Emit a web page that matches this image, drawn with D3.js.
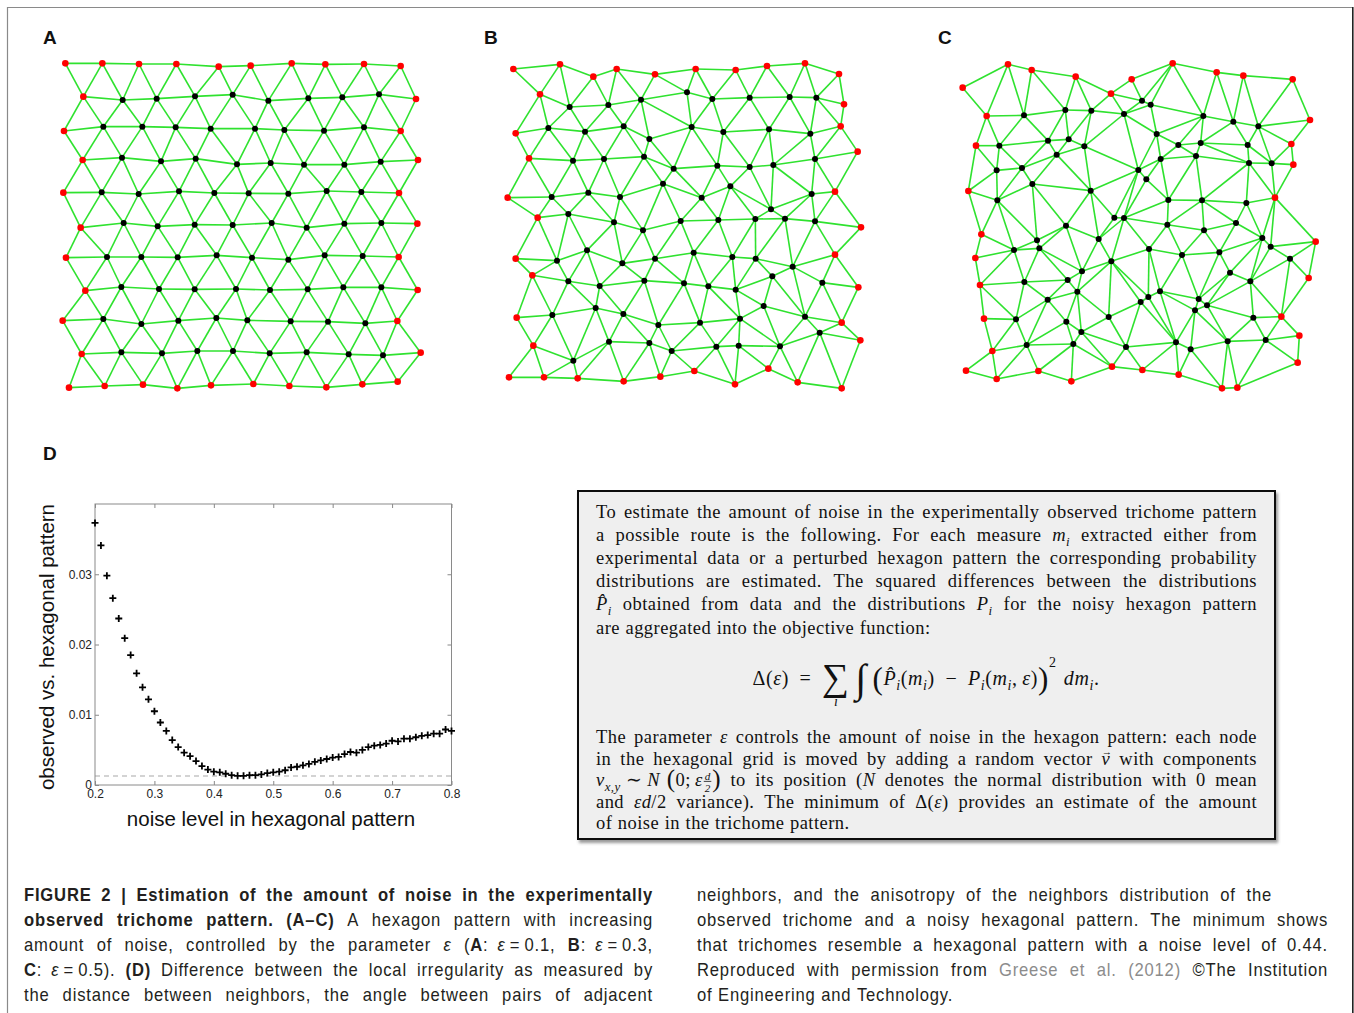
<!DOCTYPE html>
<html>
<head>
<meta charset="utf-8">
<script src="https://cdn.jsdelivr.net/npm/d3@7"></script>
<style>
body { margin: 0; background: #fff; }
svg { display: block; }
</style>
</head>
<body>
<svg id="fig" width="1354" height="1013"></svg>
<script>
// node positions of the three meshes, in sketch units (3 units = 1 px), red = border nodes
const meshA_border = [
  [46,40],[157,40],[267,42],[379,42],[506,50],[602,47],[725,40],[826,43],[942,42],[1052,48],
  [100,140],[1098,147],[42,243],[1052,243],[98,330],[1104,330],[40,428],[1047,429],[92,533],[1102,521],
  [48,623],[1046,621],[106,722],[1103,720],[38,812],[1042,813],[95,912],[1112,908],
  [57,1013],[164,1008],[279,1004],[382,1015],[483,1006],[610,1002],[718,1008],[829,1012],[937,1003],[1043,995]
];
const meshA_inner = [
  [218,150],[320,146],[435,139],[548,134],[655,152],[775,145],[877,142],[987,133],
  [160,230],[277,230],[377,232],[482,236],[615,236],[703,240],[822,242],[942,232],
  [216,323],[333,334],[437,326],[561,343],[662,339],[762,344],[883,344],[992,335],
  [155,427],[266,432],[387,424],[493,429],[596,430],[715,431],[830,423],[934,426],
  [221,519],[323,529],[434,524],[548,525],[665,519],[770,533],[883,521],[994,519],
  [171,621],[274,621],[383,622],[500,616],[606,623],[715,629],[824,616],[938,618],
  [214,711],[327,717],[434,718],[558,717],[660,720],[773,718],[880,712],[994,712],
  [160,807],[274,822],[385,812],[499,804],[592,811],[722,814],[834,815],[946,820],
  [214,907],[336,910],[442,903],[549,903],[659,910],[770,907],[896,913],[999,916]
];
const meshB_border = [
  [55,57],[195,43],[295,80],[365,57],[480,73],[602,57],[722,60],[816,48],[930,40],[1032,72],
  [135,133],[1047,163],[62,250],[1037,229],[102,325],[1088,305],[38,443],[1020,425],[128,503],[1098,532],
  [62,626],[1020,614],[112,676],[1090,712],[65,803],[1040,818],[115,887],[1096,871],
  [42,982],[147,982],[248,985],[386,994],[496,980],[598,963],[720,1003],[820,956],[908,997],[1040,1015]
];
const meshB_inner = [
  [224,171],[340,165],[438,149],[576,127],[652,147],[764,143],[884,141],[964,143],
  [160,234],[270,245],[386,229],[463,267],[590,231],[685,246],[822,238],[946,251],
  [234,332],[327,327],[447,320],[536,356],[667,347],[764,351],[835,345],[960,327],
  [170,441],[280,428],[375,441],[504,401],[620,443],[706,409],[828,478],[950,432],
  [220,492],[357,517],[444,541],[557,513],[670,510],[781,507],[870,506],[960,514],
  [186,632],[276,601],[382,640],[480,626],[596,608],[712,621],[782,626],[893,650],
  [220,694],[314,708],[448,692],[567,700],[640,709],[722,719],[832,679],[982,698],
  [172,795],[302,774],[385,792],[490,825],[615,818],[735,806],[806,768],[930,800],
  [342,875],[463,879],[530,903],[664,890],[731,887],[855,889],[974,848],
  [235,932]
];
const meshC_border = [
  [38,113],[174,43],[245,60],[377,80],[483,131],[545,88],[668,40],[800,67],[880,77],[1028,88],
  [1080,210],[1024,282],[1030,344],[975,443],[1097,575],[1076,684],[994,800],[1048,857],[1043,938],
  [110,198],[78,287],[55,423],[94,553],[76,624],[90,705],[102,806],[127,903],[48,962],
  [140,987],[265,963],[364,994],[486,950],[577,960],[686,974],[816,1015],[862,1013]
];
const meshC_inner = [
  [222,196],[346,180],[424,182],[522,192],[576,152],[602,164],[760,198],[850,215],[925,229],
  [148,287],[294,272],[356,268],[403,289],[620,252],[685,285],[752,279],[893,285],
  [140,361],[216,354],[320,314],[632,327],[738,318],[897,339],[965,340],
  [565,360],[589,388],
  [142,451],[247,402],[422,422],[655,450],[756,451],[889,459],
  [348,527],[493,503],[522,504],[652,524],[762,541],[858,519],
  [261,571],[192,600],[268,595],[446,567],[597,597],[696,615],[808,607],[937,564],[962,590],[1020,626],
  [223,696],[353,690],[396,664],[484,634],[840,668],[901,694],
  [293,749],[382,725],[572,756],[595,741],[630,724],[746,747],[771,766],[735,781],
  [198,808],[349,815],[476,801],[910,803],
  [394,846],[230,885],[370,882],[528,891],[678,877],[722,898],[833,874],[947,870]
];

// panel D: objective vs noise level
const noiseLevels = [0.20,0.21,0.22,0.23,0.24,0.25,0.26,0.27,0.28,0.29,
  0.30,0.31,0.32,0.33,0.34,0.35,0.36,0.37,0.38,0.39,
  0.40,0.41,0.42,0.43,0.44,0.45,0.46,0.47,0.48,0.49,
  0.50,0.51,0.52,0.53,0.54,0.55,0.56,0.57,0.58,0.59,
  0.60,0.61,0.62,0.63,0.64,0.65,0.66,0.67,0.68,0.69,
  0.70,0.71,0.72,0.73,0.74,0.75,0.76,0.77,0.78,0.79,0.80];
const deltaValues = [0.0373,0.0341,0.0298,0.0266,0.0237,0.0209,0.0185,0.0159,0.0139,0.0122,
  0.0105,0.0089,0.0077,0.0064,0.0054,0.0046,0.0041,0.0034,0.0027,0.0022,
  0.0019,0.0018,0.0016,0.0014,0.0013,0.0013,0.0014,0.0014,0.0015,0.0017,
  0.0018,0.0019,0.0021,0.0025,0.0026,0.0028,0.0030,0.0033,0.0035,0.0037,
  0.0039,0.0040,0.0044,0.0047,0.0046,0.0050,0.0054,0.0056,0.0057,0.0059,
  0.0063,0.0062,0.0066,0.0066,0.0068,0.0070,0.0071,0.0073,0.0073,0.0079,0.0077];
const minDelta = 0.00128;
const xTicks = [0.2,0.3,0.4,0.5,0.6,0.7,0.8];
const yTicks = [0,0.01,0.02,0.03];

var svg = d3.select("#fig");
var SANS = "Liberation Sans, Arial, sans-serif",
    SERIF = "Liberation Serif, Times New Roman, serif";

svg.append("rect").attr("width", 1354).attr("height", 1013).attr("fill", "#fff");

// outer frame
svg.append("path").attr("d", "M7.5,1013V7.5H1353")
    .attr("fill", "none").attr("stroke", "#8a8a8a").attr("stroke-width", 1.2);
svg.append("line").attr("x1", 1352.8).attr("x2", 1352.8).attr("y1", 7).attr("y2", 1013)
    .attr("stroke", "#222").attr("stroke-width", 1.6);

// panel letters
[["A", 43, 44], ["B", 484, 44], ["C", 938, 44], ["D", 43, 460]].forEach(d => {
  svg.append("text").attr("x", d[1]).attr("y", d[2]).text(d[0])
    .attr("font-family", SANS).attr("font-weight", "bold").attr("font-size", 19).attr("fill", "#111");
});

// === meshes A-C: delaunay, with the flat hull triangles peeled off ===
function drawMesh(border, inner, x0, y0) {
  var x = d3.scaleLinear().domain([0, 1200]).range([x0, x0 + 400]),
      y = d3.scaleLinear().domain([0, 1200]).range([y0, y0 + 400]);
  var pts = border.concat(inner),
      isBorder = pts.map((d, i) => i < border.length);
  var del = d3.Delaunay.from(pts),
      tri = del.triangles, half = del.halfedges,
      nt = tri.length / 3,
      removed = new Uint8Array(nt),
      next = e => e % 3 === 2 ? e - 2 : e + 1;

  var changed = true;
  while (changed) {
    changed = false;
    for (var t = 0; t < nt; t++) {
      if (removed[t]) continue;
      for (var k = 0; k < 3; k++) {
        var e = 3 * t + k, o = half[e];
        if (o !== -1 && !removed[Math.floor(o / 3)]) continue;
        var c = tri[next(next(e))];
        if (!isBorder[c]) continue;
        var a = pts[tri[e]], b = pts[tri[next(e)]], p = pts[c];
        var ux = a[0] - p[0], uy = a[1] - p[1], vx = b[0] - p[0], vy = b[1] - p[1];
        var cos = (ux * vx + uy * vy) / Math.hypot(ux, uy) / Math.hypot(vx, vy);
        if (cos < -0.09) { removed[t] = 1; changed = true; break; }
      }
    }
  }

  var links = [];
  for (var e = 0; e < tri.length; e++) {
    if (removed[Math.floor(e / 3)]) continue;
    var o = half[e];
    if (o === -1 || removed[Math.floor(o / 3)] || e < o)
      links.push([pts[tri[e]], pts[tri[next(e)]]]);
  }

  var g = svg.append("g");
  g.selectAll("line").data(links).join("line")
      .attr("x1", d => x(d[0][0])).attr("y1", d => y(d[0][1]))
      .attr("x2", d => x(d[1][0])).attr("y2", d => y(d[1][1]))
      .attr("stroke", "#2fe22f").attr("stroke-width", 1.6);
  g.selectAll("circle.in").data(inner).join("circle").attr("class", "in")
      .attr("cx", d => x(d[0])).attr("cy", d => y(d[1])).attr("r", 3).attr("fill", "#000");
  g.selectAll("circle.bd").data(border).join("circle").attr("class", "bd")
      .attr("cx", d => x(d[0])).attr("cy", d => y(d[1])).attr("r", 3.3).attr("fill", "#f00");
}

drawMesh(meshA_border, meshA_inner, 50, 50);
drawMesh(meshB_border, meshB_inner, 495, 50);
drawMesh(meshC_border, meshC_inner, 950, 50);

// === panel D ===
var px = d3.scaleLinear().domain([0.2, 0.8]).range([95, 451.5]),
    py = d3.scaleLinear().domain([0, 0.04]).range([785, 504]);
var d = svg.append("g");

d.append("line").attr("x1", px(0.2)).attr("x2", px(0.8))
    .attr("y1", py(minDelta)).attr("y2", py(minDelta))
    .attr("stroke", "#a8a8a8").attr("stroke-width", 1.2).attr("stroke-dasharray", "5,4");

function styleAxis(g) {
  g.select(".domain").remove();
  g.selectAll(".tick line").attr("stroke", "#888");
  g.selectAll(".tick text").attr("font-family", SANS).attr("font-size", 12).attr("fill", "#222");
}
d.append("g").attr("transform", `translate(0,${py(0)})`)
    .call(d3.axisBottom(px).tickValues(xTicks).tickSize(-4).tickPadding(4).tickFormat(d3.format(".1f")))
    .call(styleAxis);
d.append("g").attr("transform", `translate(0,${py(0.04)})`)
    .call(d3.axisTop(px).tickValues(xTicks).tickSize(-4).tickFormat(""))
    .call(styleAxis);
d.append("g").attr("transform", `translate(${px(0.2)},0)`)
    .call(d3.axisLeft(py).tickValues(yTicks).tickSize(-4).tickPadding(3)
      .tickFormat(v => v === 0 ? "0" : d3.format(".2f")(v)))
    .call(styleAxis);
d.append("g").attr("transform", `translate(${px(0.8)},0)`)
    .call(d3.axisRight(py).tickValues(yTicks).tickSize(-4).tickFormat(""))
    .call(styleAxis);
d.append("rect").attr("x", px(0.2)).attr("y", py(0.04))
    .attr("width", px(0.8) - px(0.2)).attr("height", py(0) - py(0.04))
    .attr("fill", "none").attr("stroke", "#8a8a8a").attr("stroke-width", 1);

d.selectAll("path.pt").data(noiseLevels).join("path").attr("class", "pt")
    .attr("transform", (v, i) => `translate(${px(v)},${py(deltaValues[i])})`)
    .attr("d", "M-3.5,0H3.5M0,-3.5V3.5")
    .attr("stroke", "#000").attr("stroke-width", 1.8);

d.append("text").attr("transform", "translate(54,647) rotate(-90)")
    .attr("text-anchor", "middle").attr("font-family", SANS).attr("font-size", 20.5)
    .attr("fill", "#111").text("observed vs. hexagonal pattern");
d.append("text").attr("x", 271).attr("y", 826)
    .attr("text-anchor", "middle").attr("font-family", SANS).attr("font-size", 20.5)
    .attr("fill", "#111").text("noise level in hexagonal pattern");

// === text layout helpers (word by word, justified) ===
function drawPiece(g, p, cx, o) {
  if (p.frac) {
    var fs = o.size * 0.6;
    var n = g.append("text").attr("y", -o.size * 0.25 - 1.5).text(p.frac[0]);
    var m = g.append("text").attr("y", o.size * 0.2 + 2).text(p.frac[1]);
    [n, m].forEach(t => t.attr("font-size", fs).attr("font-family", o.family)
      .attr("font-style", "italic").attr("fill", o.fill).attr("text-anchor", "middle"));
    var w = Math.max(n.node().getComputedTextLength(), m.node().getComputedTextLength()) + 2;
    n.attr("x", cx + w / 2 + 1); m.attr("x", cx + w / 2 + 1);
    g.append("line").attr("x1", cx + 1).attr("x2", cx + w + 1)
      .attr("y1", -o.size * 0.25).attr("y2", -o.size * 0.25).attr("stroke", o.fill).attr("stroke-width", 0.8);
    return w + 2;
  }
  var f = (p.s || "").split(" ");
  var k = p.k || (f.includes("sub") || f.includes("sup") ? 0.7 : f.includes("big") ? 1.35 : 1);
  var dy = p.dy != null ? p.dy : f.includes("sub") ? o.size * 0.28 : f.includes("sup") ? -o.size * 0.42
      : f.includes("big") ? o.size * 0.08 : 0;
  var t = g.append("text").attr("x", cx).attr("y", dy).text(p.t)
      .attr("font-size", o.size * k).attr("font-family", o.family)
      .attr("letter-spacing", o.ls || null)
      .attr("fill", f.includes("gray") ? "#8c8c8c" : o.fill)
      .attr("font-weight", f.includes("b") ? "bold" : null)
      .attr("font-style", f.includes("i") || f.includes("sub") ? "italic" : null);
  var w = t.node().getComputedTextLength();
  if (p.under) {
    g.append("text").attr("x", cx + w / 2).attr("y", o.size * 1.05).text(p.under)
      .attr("text-anchor", "middle").attr("font-size", o.size * 0.7).attr("font-family", o.family)
      .attr("font-style", "italic").attr("fill", o.fill);
  }
  if (p.over) {
    g.append("text").attr("x", cx + w / 2 + 1).attr("y", -o.size * 0.5).text(p.over)
      .attr("text-anchor", "middle").attr("font-size", o.size * 0.55).attr("font-family", o.family)
      .attr("fill", o.fill);
  }
  return w;
}

function drawLine(parent, segs, o) {
  var words = [], cur = [];
  segs.forEach(s => {
    if (Array.isArray(s)) s = {t: s[0], s: s[1]};
    if (s.frac || s.k || s.under || s.over || s.dy != null) { cur.push(s); return; }
    s.t.split(" ").forEach((part, j) => {
      if (j > 0 && cur.length) { words.push(cur); cur = []; }
      if (part !== "") cur.push({t: part, s: s.s || ""});
    });
  });
  if (cur.length) words.push(cur);

  var sx = o.sx || 1;
  var gs = words.map(w => {
    var g = parent.append("g"), inner = g.append("g").attr("transform", sx !== 1 ? `scale(${sx},1)` : null), cx = 0;
    w.forEach(p => { cx += drawPiece(inner, p, cx, o); });
    return {g: g, w: cx * sx};
  });
  var total = d3.sum(gs, v => v.w),
      gap = o.justify && gs.length > 1 ? (o.x1 - o.x0 - total) / (gs.length - 1) : o.size * (o.space || 0.27),
      x = o.center != null ? o.center - (total + gap * (gs.length - 1)) / 2 : o.x0;
  gs.forEach(v => { v.g.attr("transform", `translate(${x},${o.y})`); x += v.w + gap; });
}

// === framed box with the method text ===
var defs = svg.append("defs");
defs.append("filter").attr("id", "shadow").attr("x", "-5%").attr("y", "-5%").attr("width", "115%").attr("height", "115%")
  .append("feDropShadow").attr("dx", 2).attr("dy", 3).attr("stdDeviation", 1.8).attr("flood-color", "#555").attr("flood-opacity", 0.6);
svg.append("rect").attr("x", 578).attr("y", 491).attr("width", 697).attr("height", 348)
    .attr("fill", "#efefef").attr("stroke", "#111").attr("stroke-width", 2).attr("filter", "url(#shadow)");

const boxLines = [
  {y: 518, j: true, segs: [["To estimate the amount of noise in the experimentally observed trichome pattern", ""]]},
  {y: 541, j: true, segs: [["a possible route is the following.  For each measure ", ""],
    ["m", "i"], ["i", "sub"], [" extracted either from", ""]]},
  {y: 564, j: true, segs: [["experimental data or a perturbed hexagon pattern the corresponding probability", ""]]},
  {y: 587, j: true, segs: [["distributions are estimated.  The squared differences between the distributions", ""]]},
  {y: 610, j: true, segs: [["P\u0302", "i"], ["i", "sub"], [" obtained from data and the distributions ", ""],
    ["P", "i"], ["i", "sub"], [" for the noisy hexagon pattern", ""]]},
  {y: 634, j: false, segs: [["are aggregated into the objective function:", ""]]},
  {y: 743, j: true, segs: [["The parameter ", ""], ["\u03b5", "i"], [" controls the amount of noise in the hexagon pattern: each node", ""]]},
  {y: 764.5, j: true, segs: [["in the hexagonal grid is moved by adding a random vector ", ""], {t: "v", s: "i", over: "\u2192"}, [" with components", ""]]},
  {y: 786, j: true, segs: [["v", "i"], ["x,y", "sub"], ["\u2005\u223c\u2005", ""], ["N", "i"], ["\u2004", ""],
    ["(", "big"], ["0;\u2009", ""], ["\u03b5", "i"], {frac: ["d", "2"]}, [")", "big"],
    [" to its position (", ""], ["N", "i"], [" denotes the normal distribution with 0 mean", ""]]},
  {y: 807.5, j: true, segs: [["and ", ""], ["\u03b5d", "i"], ["/2 variance).  The minimum of \u0394(", ""], ["\u03b5", "i"],
    [") provides an estimate of the amount", ""]]},
  {y: 829, j: false, segs: [["of noise in the trichome pattern.", ""]]}
];
var box = svg.append("g");
boxLines.forEach(l => drawLine(box, l.segs,
  {x0: 596, x1: 1257, y: l.y, size: 18.5, ls: 0.45, space: 0.3, family: SERIF, fill: "#111", justify: l.j}));

const formula = [
  {t: "\u0394(", dy: 0}, {t: "\u03b5", s: "i", dy: 0}, {t: ")\u2002=\u2002", dy: 0},
  {t: "\u2211", k: 1.9, dy: 5, under: "i"}, {t: "\u2005", dy: 0},
  {t: "\u222b", k: 2.0, dy: 7}, {t: "\u2005", dy: 0},
  {t: "(", k: 1.55, dy: 4}, {t: "P\u0302", s: "i", dy: 0}, {t: "i", s: "sub", k: 0.7, dy: 5},
  {t: "(", dy: 0}, {t: "m", s: "i", dy: 0}, {t: "i", s: "sub", k: 0.7, dy: 5},
  {t: ")\u2002\u2212\u2002", dy: 0}, {t: "P", s: "i", dy: 0}, {t: "i", s: "sub", k: 0.7, dy: 5},
  {t: "(", dy: 0}, {t: "m", s: "i", dy: 0}, {t: "i", s: "sub", k: 0.7, dy: 5},
  {t: ",\u2009", dy: 0}, {t: "\u03b5", s: "i", dy: 0}, {t: ")", dy: 0},
  {t: ")", k: 1.55, dy: 4}, {t: "2", s: "sup", k: 0.7, dy: -18}, {t: "\u2004", dy: 0},
  {t: "dm", s: "i", dy: 0}, {t: "i", s: "sub", k: 0.7, dy: 5}, {t: ".", dy: 0}
];
drawLine(box, formula, {center: 926, y: 685, size: 20, ls: 0.6, family: SERIF, fill: "#111", justify: false});

// === caption, two justified columns ===
const captionLeft = [
  {j: true, segs: [["FIGURE 2 | Estimation of the amount of noise in the experimentally", "b"]]},
  {j: true, segs: [["observed trichome pattern. (A\u2013C)", "b"], [" A hexagon pattern with increasing", ""]]},
  {j: true, segs: [["amount of noise, controlled by the parameter ", ""], ["\u03b5", "i"], [" (", ""], ["A", "b"], [":\u2002", ""],
    ["\u03b5", "i"], ["\u2009=\u20090.1, ", ""], ["B", "b"], [":\u2002", ""], ["\u03b5", "i"], ["\u2009=\u20090.3,", ""]]},
  {j: true, segs: [["C", "b"], [":\u2002", ""], ["\u03b5", "i"], ["\u2009=\u20090.5). ", ""], ["(D)", "b"],
    [" Difference between the local irregularity as measured by", ""]]},
  {j: true, segs: [["the distance between neighbors, the angle between pairs of adjacent", ""]]}
];
const captionRight = [
  {j: true, x1: 1272, segs: [["neighbors, and the anisotropy of the neighbors distribution of the", ""]]},
  {j: true, segs: [["observed trichome and a noisy hexagonal pattern. The minimum shows", ""]]},
  {j: true, segs: [["that trichomes resemble a hexagonal pattern with a noise level of 0.44.", ""]]},
  {j: true, segs: [["Reproduced with permission from ", ""], ["Greese et al. (2012)", "gray"], [" \u00a9The Institution", ""]]},
  {j: false, segs: [["of Engineering and Technology.", ""]]}
];
const captionBaselines = [901, 926, 951, 976, 1001];

var cap = svg.append("g");
captionLeft.forEach((l, i) => drawLine(cap, l.segs,
  {x0: 24, x1: 653, y: captionBaselines[i], size: 17.5, sx: 0.95, ls: 0.85, space: 0.32, family: SANS, fill: "#231f20", justify: l.j}));
captionRight.forEach((l, i) => drawLine(cap, l.segs,
  {x0: 697, x1: l.x1 || 1328, y: captionBaselines[i], size: 17.5, sx: 0.95, ls: 0.85, space: 0.32, family: SANS, fill: "#231f20", justify: l.j}));
</script>
</body>
</html>
